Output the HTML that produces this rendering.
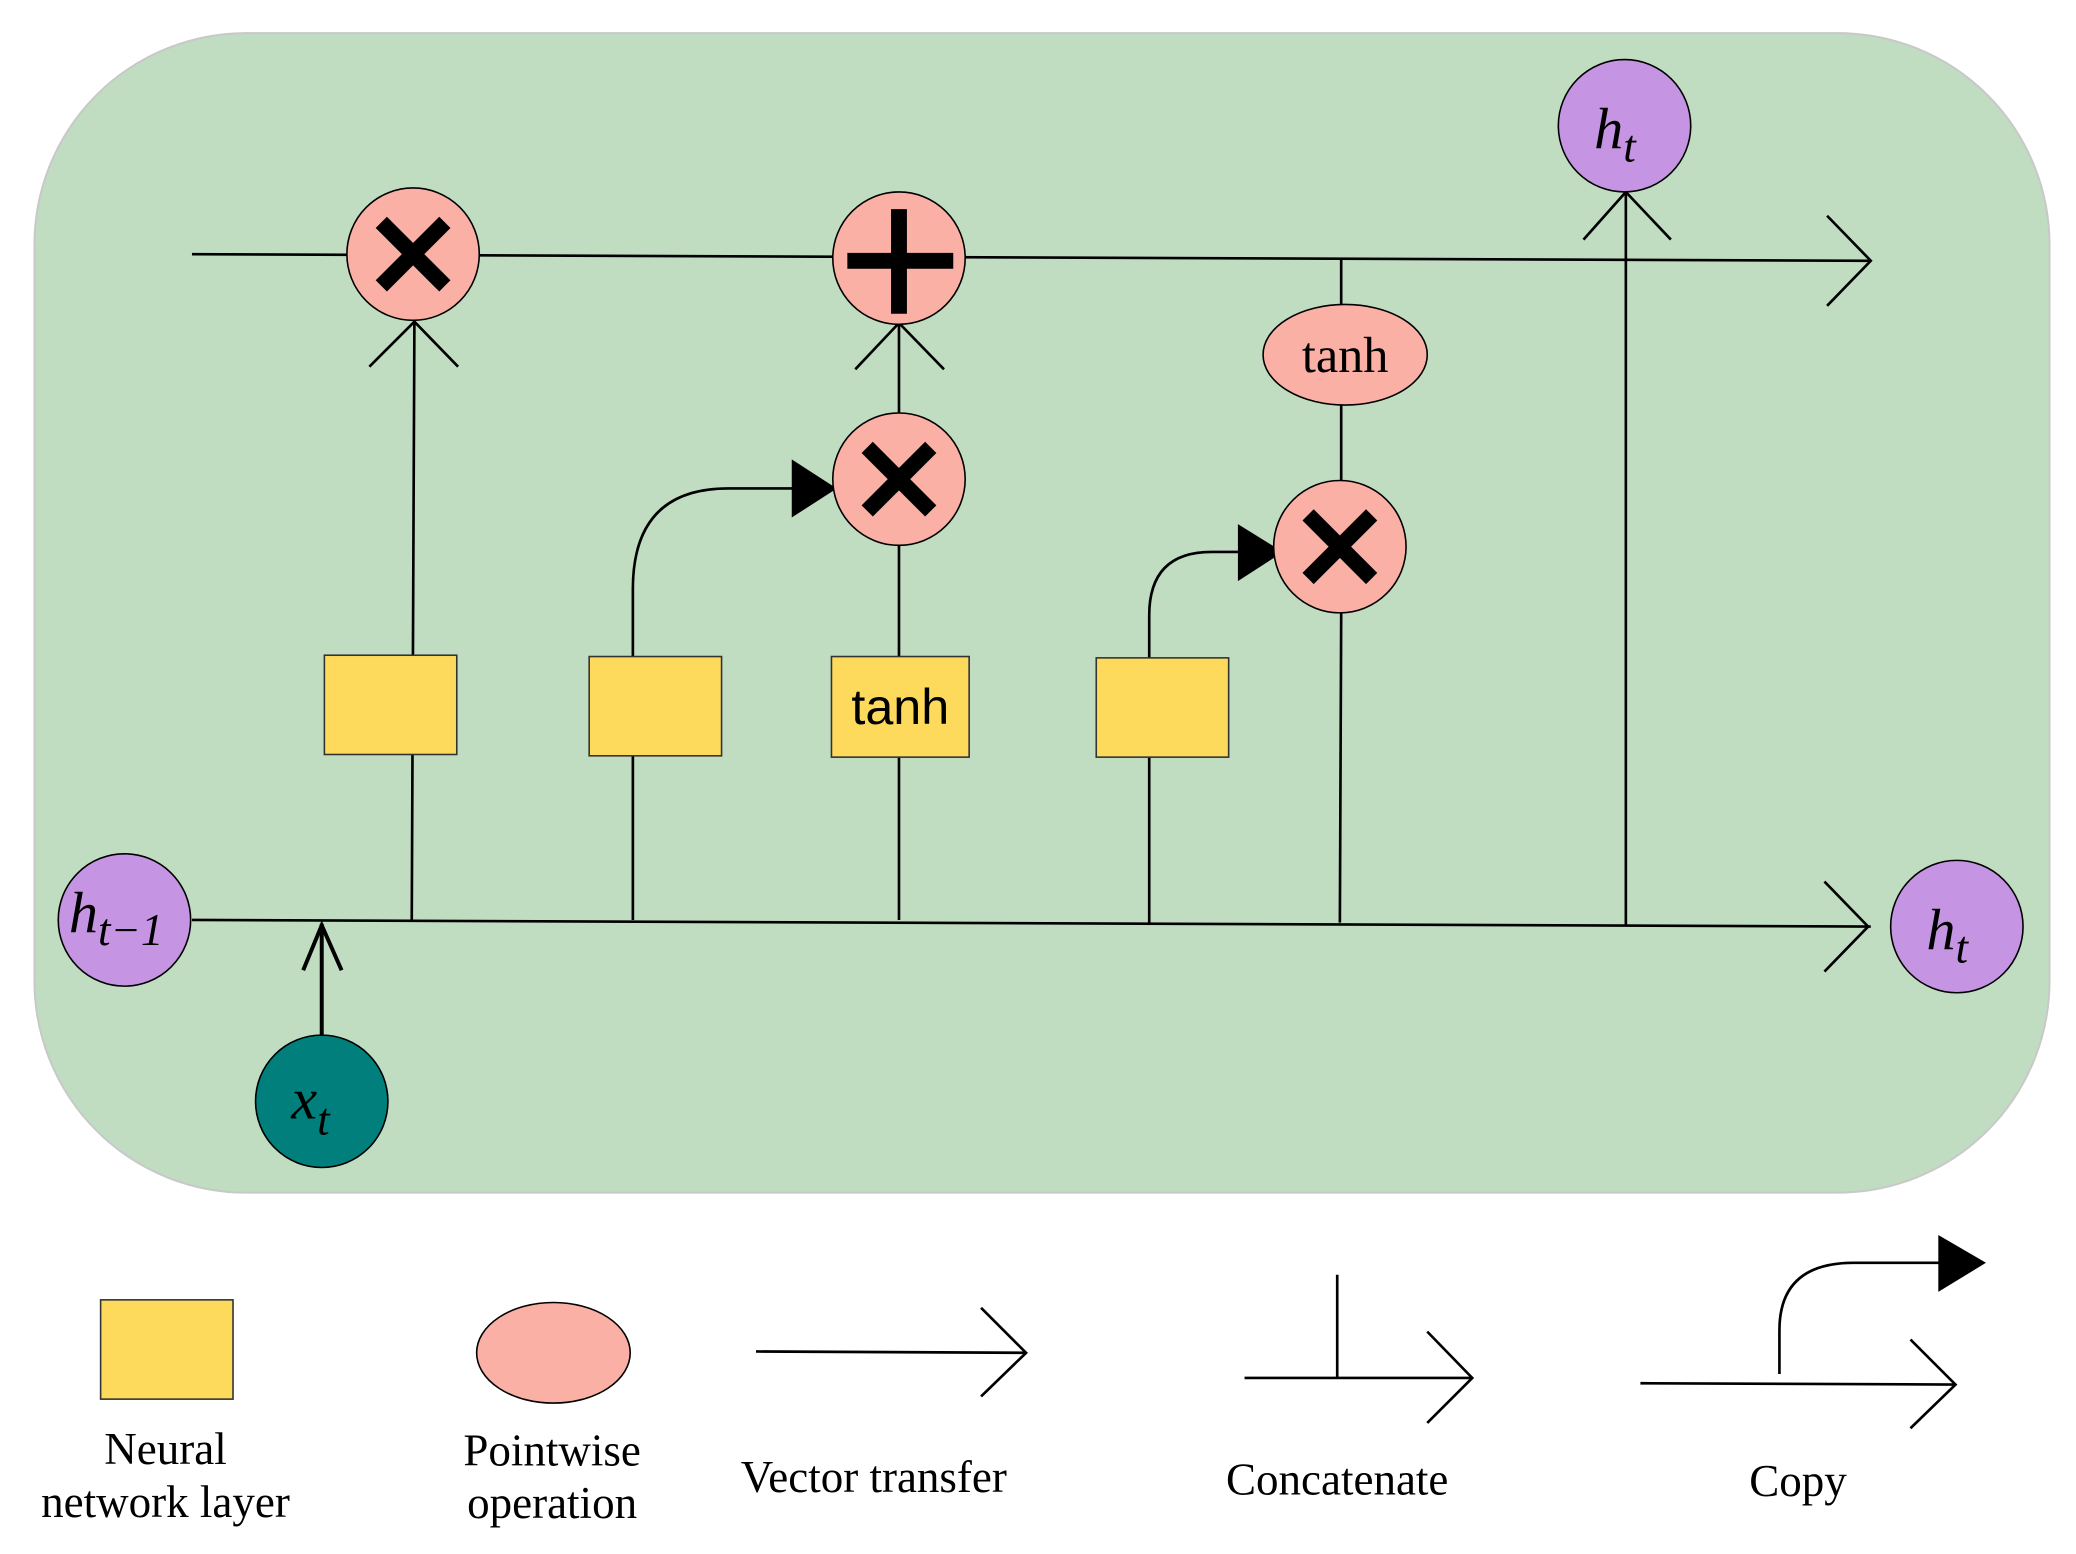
<!DOCTYPE html>
<html><head><meta charset="utf-8"><style>
html,body{margin:0;padding:0;background:#fff;}
svg{display:block;}
text{font-family:"Liberation Serif",serif;}
</style></head><body>
<svg width="2076" height="1554" viewBox="0 0 1568 1174" preserveAspectRatio="none" xmlns="http://www.w3.org/2000/svg">
<rect x="26" y="25" width="1522" height="876" rx="160" ry="160" fill="#c0ddc2" stroke="#c8c8c8" stroke-width="1.5"/>
<g stroke="#000" stroke-width="2" fill="none">
<!-- top line -->
<line x1="145" y1="192" x2="1413" y2="197"/>
<polyline points="1380,163 1413,197 1380,231"/>
<!-- bottom line -->
<line x1="145" y1="695" x2="1413" y2="700"/>
<polyline points="1378,666 1411,700 1378,734"/>
<!-- verticals -->
<line x1="311" y1="695" x2="313" y2="243"/>
<polyline points="279,277 313,243 346,277"/>
<path d="M478,695 V445 Q478,369 550,369 H600"/>
<line x1="679" y1="695" x2="679" y2="572"/>
<line x1="679" y1="496" x2="679" y2="412"/>
<line x1="679" y1="312" x2="679" y2="244"/>
<polyline points="646,279 679,244 713,279"/>
<path d="M868,697 V465 Q868,417 915,417 H935"/>
<line x1="1012" y1="697" x2="1013" y2="463"/>
<line x1="1013" y1="363" x2="1013" y2="306"/>
<line x1="1013" y1="230" x2="1013" y2="196"/>
<line x1="1228" y1="699" x2="1228" y2="145"/>
<polyline points="1196,181 1228,145 1262,181"/>
<line x1="243" y1="782" x2="243" y2="698" stroke-width="3"/>
<polyline points="229,733 243,699 258,733" stroke-width="3"/>
</g>
<polygon points="598,347 632,369 598,391" fill="#000"/>
<polygon points="935,396 969,417 935,439" fill="#000"/>
<!-- yellow rects -->
<g fill="#fdd95c" stroke="#333" stroke-width="1.2">
<rect x="245" y="495" width="100" height="75"/>
<rect x="445" y="496" width="100" height="75"/>
<rect x="628" y="496" width="104" height="76"/>
<rect x="828" y="497" width="100" height="75"/>
<rect x="76" y="982" width="100" height="75"/>
</g>
<text x="680" y="547" font-family="Liberation Sans,sans-serif" font-size="38" text-anchor="middle" style="font-family:'Liberation Sans',sans-serif">tanh</text>
<!-- pink circles -->
<g fill="#fbb0a5" stroke="#000" stroke-width="1.2">
<circle cx="312" cy="192" r="50"/>
<circle cx="679" cy="195" r="50"/>
<circle cx="679" cy="362" r="50"/>
<circle cx="1012" cy="413" r="50"/>
<ellipse cx="1016" cy="268" rx="62" ry="38"/>
<ellipse cx="418" cy="1022" rx="58" ry="38"/>
</g>
<text x="1016" y="281" font-size="38" text-anchor="middle">tanh</text>
<g stroke="#000" stroke-width="12" stroke-linecap="butt">
<line x1="288" y1="168" x2="336" y2="216"/><line x1="336" y1="168" x2="288" y2="216"/>
<line x1="655" y1="338" x2="703" y2="386"/><line x1="703" y1="338" x2="655" y2="386"/>
<line x1="988" y1="389" x2="1036" y2="437"/><line x1="1036" y1="389" x2="988" y2="437"/>
<line x1="679" y1="158" x2="679" y2="237"/><line x1="640" y1="197" x2="720" y2="197"/>
</g>
<!-- purple / teal circles -->
<g stroke="#000" stroke-width="1.2">
<circle cx="1227" cy="95" r="50" fill="#c594e2"/>
<circle cx="94" cy="695" r="50" fill="#c594e2"/>
<circle cx="1478" cy="700" r="50" fill="#c594e2"/>
<circle cx="243" cy="832" r="50" fill="#007f7c"/>
</g>
<g font-style="italic" font-size="44">
<text x="1204" y="112">h<tspan font-size="34" dy="10">t</tspan></text>
<text x="1455" y="717">h<tspan font-size="34" dy="10">t</tspan></text>
<text x="52" y="704">h<tspan font-size="34" dy="10">t−1</tspan></text>
<text x="220" y="845">x<tspan font-size="34" dy="12">t</tspan></text>
</g>
<!-- legend -->
<g stroke="#000" stroke-width="2" fill="none">
<line x1="571" y1="1021" x2="775" y2="1022"/>
<polyline points="741,988 775,1022 741,1055"/>
<line x1="940" y1="1041" x2="1112" y2="1041"/>
<line x1="1010" y1="963" x2="1010" y2="1041"/>
<polyline points="1078,1006 1112,1041 1078,1075"/>
<line x1="1239" y1="1045" x2="1477" y2="1046"/>
<polyline points="1443,1012 1477,1046 1443,1079"/>
<path d="M1344,1038 V1005 Q1344,954 1400,954 H1465"/>
</g>
<polygon points="1464,933 1500,954 1464,976" fill="#000"/>
<g font-size="34" text-anchor="middle">
<text x="125" y="1106">Neural</text>
<text x="125" y="1146">network layer</text>
<text x="417" y="1107">Pointwise</text>
<text x="417" y="1147">operation</text>
<text x="660" y="1127">Vector transfer</text>
<text x="1010" y="1129">Concatenate</text>
<text x="1358" y="1130">Copy</text>
</g>
</svg>
</body></html>
